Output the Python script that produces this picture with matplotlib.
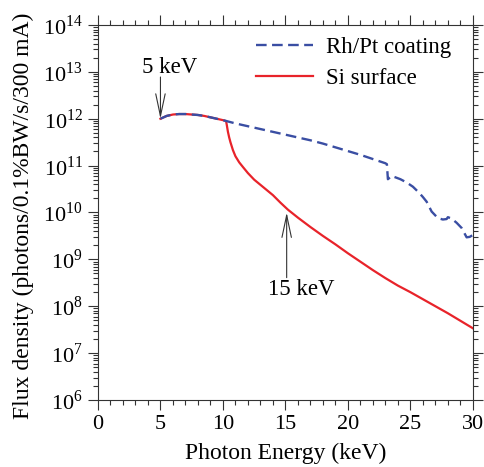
import numpy as np
import matplotlib
matplotlib.use("Agg")
import matplotlib.pyplot as plt
from matplotlib.ticker import LogLocator, MultipleLocator, NullFormatter

plt.rcParams['font.family'] = ['Liberation Serif', 'DejaVu Serif']
plt.rcParams['mathtext.fontset'] = 'custom'
plt.rcParams['mathtext.rm'] = 'Liberation Serif'

# Rh/Pt coating (energy in keV, log10 of flux density)
rhpt_e = [5.0, 5.25, 5.5, 6.0, 6.5, 7.0, 7.5, 8.0, 8.5, 9.0, 9.5, 10.0, 11.0, 12.0,
          13.0, 14.0, 15.0, 16.0, 17.0, 18.0, 19.0, 20.0, 21.0, 22.0, 23.0, 23.12,
          23.2, 23.5, 24.2, 24.7, 25.2, 25.7, 26.0, 26.3, 26.7, 27.2, 27.6, 27.9,
          28.0, 28.3, 28.7, 29.1, 29.5, 29.75, 30.0]
rhpt_log = [12.0, 12.03, 12.06, 12.09, 12.1, 12.1, 12.09, 12.08, 12.06, 12.03, 12.0,
            11.97, 11.9, 11.84, 11.78, 11.72, 11.66, 11.6, 11.54, 11.47, 11.39, 11.31,
            11.23, 11.14, 11.05, 11.03, 10.71, 10.78, 10.71, 10.64, 10.55, 10.42,
            10.33, 10.23, 10.02, 9.88, 9.85, 9.86, 9.9, 9.87, 9.78, 9.67, 9.47, 9.48,
            9.52]

# Si surface
si_e = [5.0, 5.25, 5.5, 6.0, 6.5, 7.0, 7.5, 8.0, 8.5, 9.0, 9.5, 10.0, 10.25, 10.3,
        10.4, 10.5, 10.6, 10.8, 11.0, 11.3, 11.6, 12.0, 12.5, 13.0, 13.5, 14.0, 14.6,
        15.2, 16.0, 17.0, 18.0, 19.0, 20.0, 21.0, 22.0, 23.0, 24.0, 25.0, 26.0,
        27.0, 28.0, 29.0, 30.0]
si_log = [12.0, 12.03, 12.06, 12.09, 12.1, 12.1, 12.09, 12.08, 12.06, 12.03, 12.0,
          11.97, 11.95, 11.88, 11.72, 11.6, 11.5, 11.33, 11.2, 11.07, 10.97, 10.84,
          10.7, 10.59, 10.48, 10.37, 10.21, 10.06, 9.89, 9.69, 9.5, 9.32, 9.13, 8.95,
          8.77, 8.6, 8.44, 8.3, 8.15, 8.0, 7.85, 7.69, 7.53]

decades = np.arange(6, 15)

rhpt_flux = 10 ** np.array(rhpt_log)
si_flux = 10 ** np.array(si_log)

fig = plt.figure(figsize=(4.85, 4.67), dpi=100)
ax = fig.add_axes([0.202, 0.1435, 0.773, 0.803])

red, = ax.plot(si_e, si_flux, color='#e8232a', lw=1.6)
blue, = ax.plot(rhpt_e, rhpt_flux, color='#3a4ea3', lw=1.7, dashes=(4.5, 2.3))

ax.set_yscale('log')
ax.set_xlim(0, 30)
ax.set_ylim(1e6, 1e14)
ax.xaxis.set_major_locator(MultipleLocator(5))
ax.xaxis.set_minor_locator(MultipleLocator(1))
ax.set_yticks(10.0 ** decades, [f'$10^{{{d}}}$' for d in decades])
ax.yaxis.set_minor_locator(LogLocator(base=10, subs=np.arange(2, 10), numticks=100))
ax.yaxis.set_minor_formatter(NullFormatter())

ax.tick_params(which='both', direction='out', top=True, right=True,
               labelsize=16, width=0.8, color='#333333')
ax.tick_params(which='major', length=7, pad=4)
ax.tick_params(which='minor', length=3.5)
for s in ax.spines.values():
    s.set_linewidth(0.8)
    s.set_color('#333333')

ax.set_xlabel('Photon Energy (keV)', fontsize=17, labelpad=6)
ax.set_ylabel('Flux density (photons/0.1%BW/s/300 mA)', fontsize=17)
ax.yaxis.set_label_coords(-0.171, 0.49)

# open V arrows pointing at 5 keV and 15 keV
arrow = dict(arrowstyle='->,head_length=1.6,head_width=0.34', color='#333333', lw=0.8,
             shrinkA=0, shrinkB=0)
ax.annotate('', xy=(5.0, 10 ** 12.0), xytext=(5.0, 10 ** 12.89), arrowprops=arrow)
ax.text(5.7, 10 ** 13.1, '5 keV', fontsize=16.5, ha='center', va='center')
ax.annotate('', xy=(15.1, 10 ** 10.0), xytext=(15.1, 10 ** 8.61), arrowprops=arrow)
ax.text(16.25, 10 ** 8.35, '15 keV', fontsize=16.5, ha='center', va='center')

ax.legend([blue, red], ['Rh/Pt coating', 'Si surface'], loc='upper right',
          bbox_to_anchor=(0.941, 0.968), frameon=False, fontsize=16.5,
          borderpad=0, borderaxespad=0, handlelength=2.5, handletextpad=0.55,
          labelspacing=0.45)

fig.savefig('out.png', dpi=100)
